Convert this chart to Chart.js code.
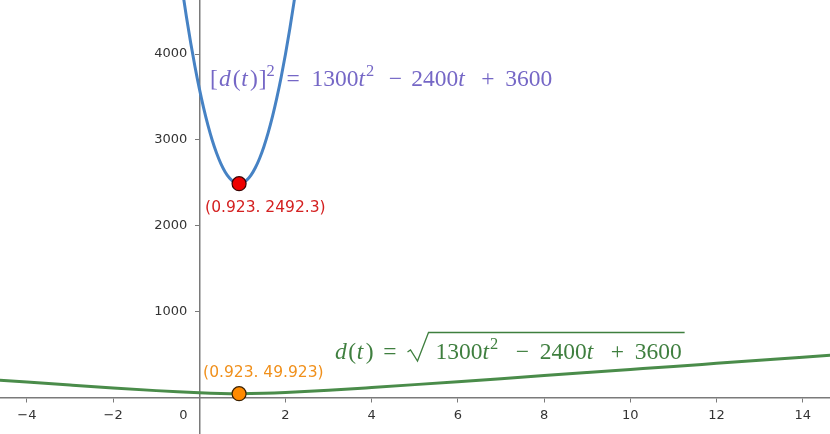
<!DOCTYPE html>
<html>
<head>
<meta charset="utf-8">
<script src="https://cdn.jsdelivr.net/npm/chart.js@4"></script>
<style>
  html, body { margin: 0; padding: 0; background: #fff; }
  #wrap { width: 830px; height: 434px; position: relative; }
</style>
</head>
<body>
<div id="wrap"><canvas id="graph"></canvas></div>
<script>
// [d(t)]^2 curve
const sqTimes = [-0.4, -0.3, -0.2, -0.1, 0, 0.1, 0.2, 0.3, 0.4, 0.5, 0.6, 0.7, 0.8, 0.9, 1.0,
  1.1, 1.2, 1.3, 1.4, 1.5, 1.6, 1.7, 1.8, 1.9, 2.0, 2.1, 2.2, 2.3];
const sqValues = [4768, 4437, 4132, 3853, 3600, 3373, 3172, 2997, 2848, 2725, 2628, 2557, 2512, 2493, 2500,
  2533, 2592, 2677, 2788, 2925, 3088, 3277, 3492, 3733, 4000, 4293, 4612, 4957];

// d(t) curve
const dTimes = [-5, -4, -3, -2, -1, -0.5, 0, 0.5, 0.923, 1.5, 2, 3, 4, 5, 6, 7, 8, 9, 10, 11, 12, 13, 14, 15];
const dValues = [219.3, 184.4, 150, 116.6, 85.4, 71.6, 60, 52.2, 49.9, 54.1, 63.2, 90, 121.7, 155.2,
  189.7, 224.7, 260, 295.5, 331.1, 366.7, 402.5, 438.3, 474.1, 510];

// minimum points
const minT = 0.923;
const minSq = 2492.3;
const minD = 49.923;
const sqLabel = "(0.923. 2492.3)";
const dLabel = "(0.923. 49.923)";

// axis ticks
const xTicks = [-4, -2, 0, 2, 4, 6, 8, 10, 12, 14];
const yTicks = [1000, 2000, 3000, 4000];

const toPts = (xs, ys) => xs.map((x, i) => ({ x: x, y: ys[i] }));

const AXIS = "#7a7a7a";
const TICK_FONT = { family: "'DejaVu Sans', sans-serif", size: 13 };

// draw a run of math-ish text, pre/post gaps in em
function drawRich(ctx, parts, x, y, size, color) {
  ctx.fillStyle = color;
  ctx.textBaseline = "alphabetic";
  ctx.textAlign = "left";
  parts.forEach(p => {
    const fs = p.sup ? size * 0.7 : size;
    ctx.font = (p.it ? "italic " : "") + fs + "px 'Liberation Serif', serif";
    x += (p.pre || 0) * size;
    ctx.fillText(p.s, x, y - (p.sup ? size * 0.42 : 0));
    x += ctx.measureText(p.s).width + (p.post || 0) * size;
  });
  return x;
}

// no extra room for tick labels, the plot fills the canvas
const noPad = s => { s.paddingLeft = s.paddingRight = s.paddingTop = s.paddingBottom = 0; };

const labelsPlugin = {
  id: "labels",
  afterDatasetsDraw(chart) {
    const ctx = chart.ctx;
    const xs = chart.scales.x, ys = chart.scales.y;
    const ax = xs.getPixelForValue(0), ay = ys.getPixelForValue(0);
    ctx.save();

    // y tick labels left of the axis, and the origin label
    ctx.font = "13px 'DejaVu Sans', sans-serif";
    ctx.fillStyle = "#333";
    ctx.textAlign = "right";
    ctx.textBaseline = "middle";
    yTicks.forEach(v => ctx.fillText(String(v), ax - 12, ys.getPixelForValue(v)));
    ctx.textAlign = "center";
    ctx.fillText("0", ax - 16, ay + 18);

    // point labels
    const px = xs.getPixelForValue(minT);
    ctx.font = "15.5px 'DejaVu Sans', sans-serif";
    ctx.textAlign = "left";
    ctx.fillStyle = "#d42020";
    ctx.fillText(sqLabel, px - 34, ys.getPixelForValue(minSq) + 24);
    ctx.fillStyle = "#f0901c";
    ctx.fillText(dLabel, px - 36, ys.getPixelForValue(minD) - 21);

    // purple formula
    const purple = "#7567c6";
    drawRich(ctx, [
      { s: "[", post: 0.05 }, { s: "d", it: true, post: 0.08 }, { s: "(", post: 0.03 },
      { s: "t", it: true, post: 0.1 }, { s: ")", post: 0.03 }, { s: "]" },
      { s: "2", sup: true },
      { s: "=", pre: 0.5, post: 0.5 }, { s: "1300" }, { s: "t", it: true, post: 0.04 },
      { s: "2", sup: true, post: 0.22 },
      { s: "\u2212", pre: 0.4, post: 0.4 }, { s: "2400" }, { s: "t", it: true, post: 0.25 },
      { s: "+", pre: 0.45, post: 0.45 }, { s: "3600" }
    ], xs.getPixelForValue(0.25), ys.getPixelForValue(3628), 23.5, purple);

    // green formula with a drawn radical
    const green = "#3f7f3f";
    const size = 23.5;
    const gx = xs.getPixelForValue(3.15), gy = ys.getPixelForValue(453);
    let x0 = drawRich(ctx, [
      { s: "d", it: true, post: 0.06 }, { s: "(", post: 0.03 }, { s: "t", it: true, post: 0.1 }, { s: ")" },
      { s: "=", pre: 0.42, post: 0.55 }
    ], gx, gy, size, green);
    const x2 = drawRich(ctx, [
      { s: "1300" }, { s: "t", it: true, post: 0.04 }, { s: "2", sup: true, post: 0.25 },
      { s: "\u2212", pre: 0.5, post: 0.45 }, { s: "2400" }, { s: "t", it: true, post: 0.25 },
      { s: "+", pre: 0.5, post: 0.45 }, { s: "3600" }
    ], x0 + 26, gy, size, green);
    ctx.strokeStyle = green;
    ctx.lineWidth = 1.3;
    ctx.lineJoin = "miter";
    ctx.beginPath();
    ctx.moveTo(x0 - 2, gy - 7);
    ctx.lineTo(x0 + 1, gy - 9);
    ctx.lineTo(x0 + 8, gy + 2);
    ctx.lineTo(x0 + 19, gy - 26.5);
    ctx.lineTo(x2 + 3, gy - 26.5);
    ctx.stroke();

    ctx.restore();
  }
};

new Chart(document.getElementById("graph"), {
  type: "scatter",
  data: {
    datasets: [
      {
        label: "min d^2",
        data: [{ x: minT, y: minSq }],
        pointRadius: 7,
        pointBackgroundColor: "#ee0000",
        pointBorderColor: "#3a0000",
        pointBorderWidth: 1.2,
        order: 0
      },
      {
        label: "min d",
        data: [{ x: minT, y: minD }],
        pointRadius: 7,
        pointBackgroundColor: "#ff8a00",
        pointBorderColor: "#3a2000",
        pointBorderWidth: 1.2,
        order: 0
      },
      {
        label: "[d(t)]^2",
        data: toPts(sqTimes, sqValues),
        showLine: true,
        borderColor: "#4682c4",
        borderWidth: 3,
        pointRadius: 0,
        cubicInterpolationMode: "monotone",
        order: 2
      },
      {
        label: "d(t)",
        data: toPts(dTimes, dValues),
        showLine: true,
        borderColor: "#4a8c4a",
        borderWidth: 3,
        pointRadius: 0,
        cubicInterpolationMode: "monotone",
        order: 2
      }
    ]
  },
  options: {
    responsive: true,
    maintainAspectRatio: false,
    animation: false,
    layout: { padding: 0, autoPadding: false },
    plugins: { legend: { display: false }, tooltip: { enabled: false } },
    scales: {
      x: {
        type: "linear",
        min: -4.624,
        max: 14.633,
        position: { y: 0 },
        border: { color: AXIS, width: 1.5 },
        grid: { drawOnChartArea: false, drawTicks: true, tickLength: 4, color: AXIS },
        afterBuildTicks: s => { s.ticks = xTicks.map(v => ({ value: v })); },
        afterFit: noPad,
        ticks: {
          padding: 6,
          color: "#333",
          font: TICK_FONT,
          maxRotation: 0,
          autoSkip: false,
          callback: v => (v === 0 ? "" : String(v).replace("-", "\u2212"))
        }
      },
      y: {
        type: "linear",
        min: -419,
        max: 4628,
        position: { x: 0 },
        border: { color: AXIS, width: 1.5 },
        grid: { drawOnChartArea: false, drawTicks: true, tickLength: 4, color: AXIS },
        afterBuildTicks: s => { s.ticks = yTicks.map(v => ({ value: v })); },
        afterFit: noPad,
        ticks: {
          color: "#333",
          font: TICK_FONT,
          autoSkip: false,
          callback: () => ""
        }
      }
    }
  },
  plugins: [labelsPlugin]
});
</script>
</body>
</html>
